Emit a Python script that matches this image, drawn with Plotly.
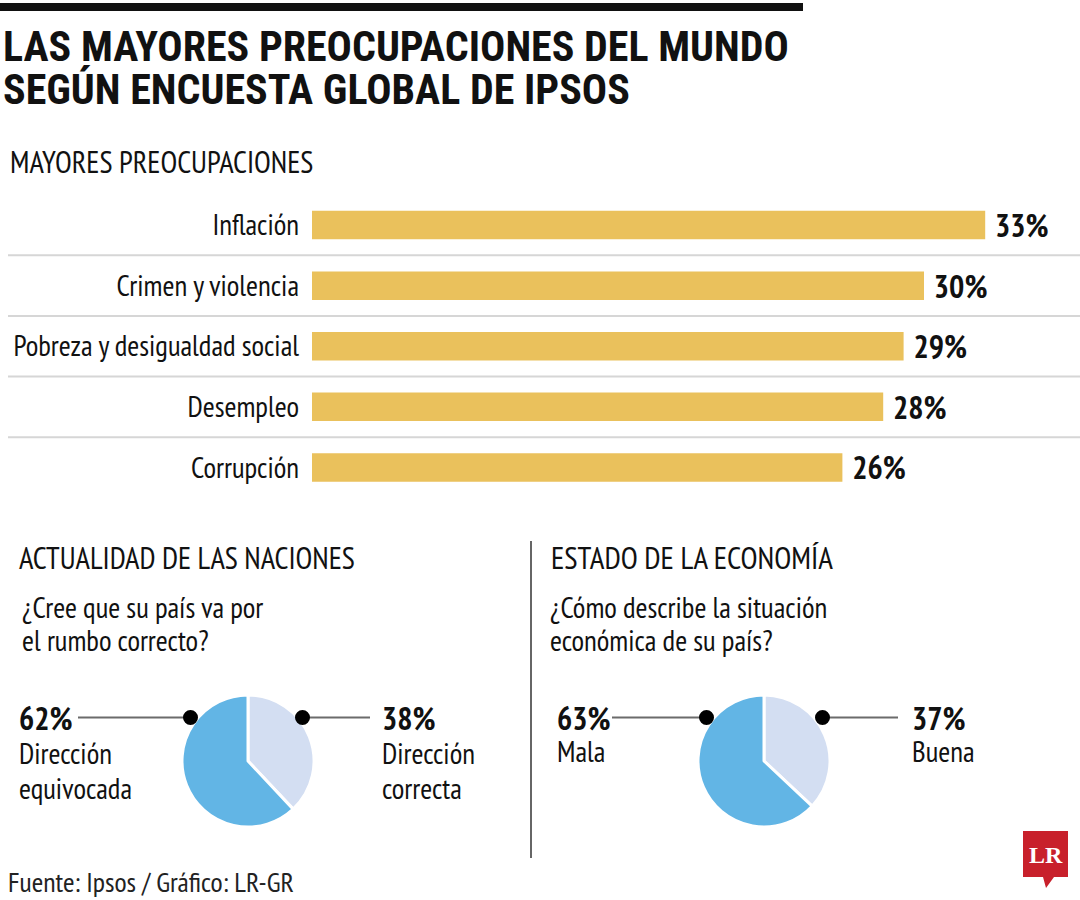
import plotly.graph_objects as go

# ---------------- data ----------------
categories = ["Inflación", "Crimen y violencia", "Pobreza y desigualdad social",
              "Desempleo", "Corrupción"]
concern_values = [33, 30, 29, 28, 26]

nations_labels = ["Dirección correcta", "Dirección equivocada"]
nations_values = [38, 62]

economy_labels = ["Buena", "Mala"]
economy_values = [37, 63]

# ---------------- styling ----------------
W, H = 1080, 900
NARROW = "PT Sans Narrow, Roboto Condensed, sans-serif"
TITLE_FONT = "Roboto Condensed, PT Sans Narrow, sans-serif"
BLACK = "#111111"
GOLD = "#EAC15C"
BLUE_DARK = "#62B5E5"
BLUE_LIGHT = "#D3DEF2"


def px(x):
    return x / W


def py(y):
    return 1 - y / H


fig = go.Figure()

# Horizontal bar chart
fig.add_trace(go.Bar(
    x=concern_values, y=categories, orientation="h",
    marker=dict(color=GOLD, line=dict(width=0)),
    width=0.47,
    texttemplate="\u00a0<b>%{x}%</b>", textposition="outside", constraintext="none",
    textfont=dict(family=NARROW, size=32, color=BLACK),
    cliponaxis=False, hoverinfo="skip", showlegend=False,
))


def pie_domain(cx, cy, r):
    return dict(x=[px(cx - r), px(cx + r)], y=[py(cy + r), py(cy - r)])


for labels, values, (cx, cy) in [(nations_labels, nations_values, (248, 761)),
                                 (economy_labels, economy_values, (764, 761))]:
    fig.add_trace(go.Pie(
        labels=labels, values=values, sort=False, direction="clockwise",
        rotation=0, textinfo="none", hoverinfo="skip", showlegend=False,
        marker=dict(colors=[BLUE_LIGHT, BLUE_DARK], line=dict(color="white", width=3)),
        domain=pie_domain(cx, cy, 66),
    ))

shapes = []
# top black rule
shapes.append(dict(type="rect", xref="paper", yref="paper",
                   x0=px(0), x1=px(803), y0=py(11), y1=py(3),
                   fillcolor=BLACK, line=dict(width=0)))
# separators between bar rows
for i in range(len(categories) - 1):
    shapes.append(dict(type="line", xref="paper", yref="y",
                       x0=px(8), x1=1, y0=i + 0.5, y1=i + 0.5,
                       line=dict(color="#D6D6D6", width=2)))
# vertical divider
shapes.append(dict(type="line", xref="paper", yref="paper",
                   x0=px(531), x1=px(531), y0=py(858), y1=py(541),
                   line=dict(color="#333333", width=1.5)))
# leader lines and dots
for x0, x1, dotx in [(78, 190, 190.5), (302.5, 370, 302.5),
                     (612, 706.5, 706.5), (822.5, 898, 822.5)]:
    shapes.append(dict(type="line", xref="paper", yref="paper",
                       x0=px(x0), x1=px(x1), y0=py(717.5), y1=py(717.5),
                       line=dict(color="#6B6B6B", width=2)))
    shapes.append(dict(type="circle", xref="paper", yref="paper",
                       x0=px(dotx - 7.5), x1=px(dotx + 7.5),
                       y0=py(717.5 + 7.5), y1=py(717.5 - 7.5),
                       fillcolor="#000000", line=dict(width=0)))
# LR logo (speech bubble)
logo_path = "M {a},{b} L {c},{b} L {c},{d} L {e},{d} L {f},{g} L {h},{d} L {a},{d} Z".format(
    a=px(1023), b=py(831), c=px(1068), d=py(877), e=px(1054), f=px(1046), g=py(888), h=px(1043))
shapes.append(dict(type="path", xref="paper", yref="paper", path=logo_path,
                   fillcolor="#C8202B", line=dict(width=0)))

annotations = []


def txt(x, y, s, size, bold=False, color=BLACK, family=NARROW, anchor="left"):
    annotations.append(dict(
        x=px(x), y=py(y), xref="paper", yref="paper", xanchor=anchor, yanchor="middle",
        text=f"<b>{s}</b>" if bold else s, showarrow=False,
        font=dict(family=family, size=size, color=color),
    ))


txt(1, 47, "LAS MAYORES PREOCUPACIONES DEL MUNDO", 42, bold=True, family=TITLE_FONT)
txt(1, 89, "SEGÚN ENCUESTA GLOBAL DE IPSOS", 42, bold=True, family=TITLE_FONT)
txt(8, 162, "MAYORES PREOCUPACIONES", 30.5)

txt(17, 557, "ACTUALIDAD DE LAS NACIONES", 30.5)
txt(20, 607, "¿Cree que su país va por", 29)
txt(20, 640, "el rumbo correcto?", 29)
txt(17, 718, "62%", 32, bold=True)
txt(17, 753, "Dirección", 29)
txt(17, 788, "equivocada", 29)
txt(380, 718, "38%", 32, bold=True)
txt(380, 753, "Dirección", 29)
txt(380, 788, "correcta", 29)

txt(549, 557, "ESTADO DE LA ECONOMÍA", 31)
txt(548, 607, "¿Cómo describe la situación", 29)
txt(548, 640, "económica de su país?", 29)
txt(555, 718, "63%", 32, bold=True)
txt(555, 751, "Mala", 29)
txt(910, 718, "37%", 32, bold=True)
txt(910, 751, "Buena", 29)

txt(6, 881, "Fuente: Ipsos / Gráfico: LR-GR", 28, color="#222222")
txt(1045.5, 855, "LR", 24, bold=True, color="white",
    family="Liberation Serif, DejaVu Serif, serif", anchor="center")

fig.update_layout(
    width=W, height=H, margin=dict(l=0, r=0, t=0, b=0, autoexpand=False),
    paper_bgcolor="white", plot_bgcolor="white",
    shapes=shapes, annotations=annotations, hovermode=False,
    xaxis=dict(domain=[px(312), 1], range=[0, (W - 312) / 20.4], visible=False,
               fixedrange=True, automargin=False),
    yaxis=dict(domain=[py(497.8), py(194.7)], autorange="reversed", type="category",
               showgrid=False, zeroline=False, showline=False, ticks="",
               ticklabelstandoff=12, fixedrange=True, automargin=False,
               tickfont=dict(family=NARROW, size=29, color=BLACK)),
    bargap=0.53,
)

fig.write_html("out.html", config={"displayModeBar": False},
               post_script="document.body.style.margin='0';document.body.style.overflow='hidden';")
